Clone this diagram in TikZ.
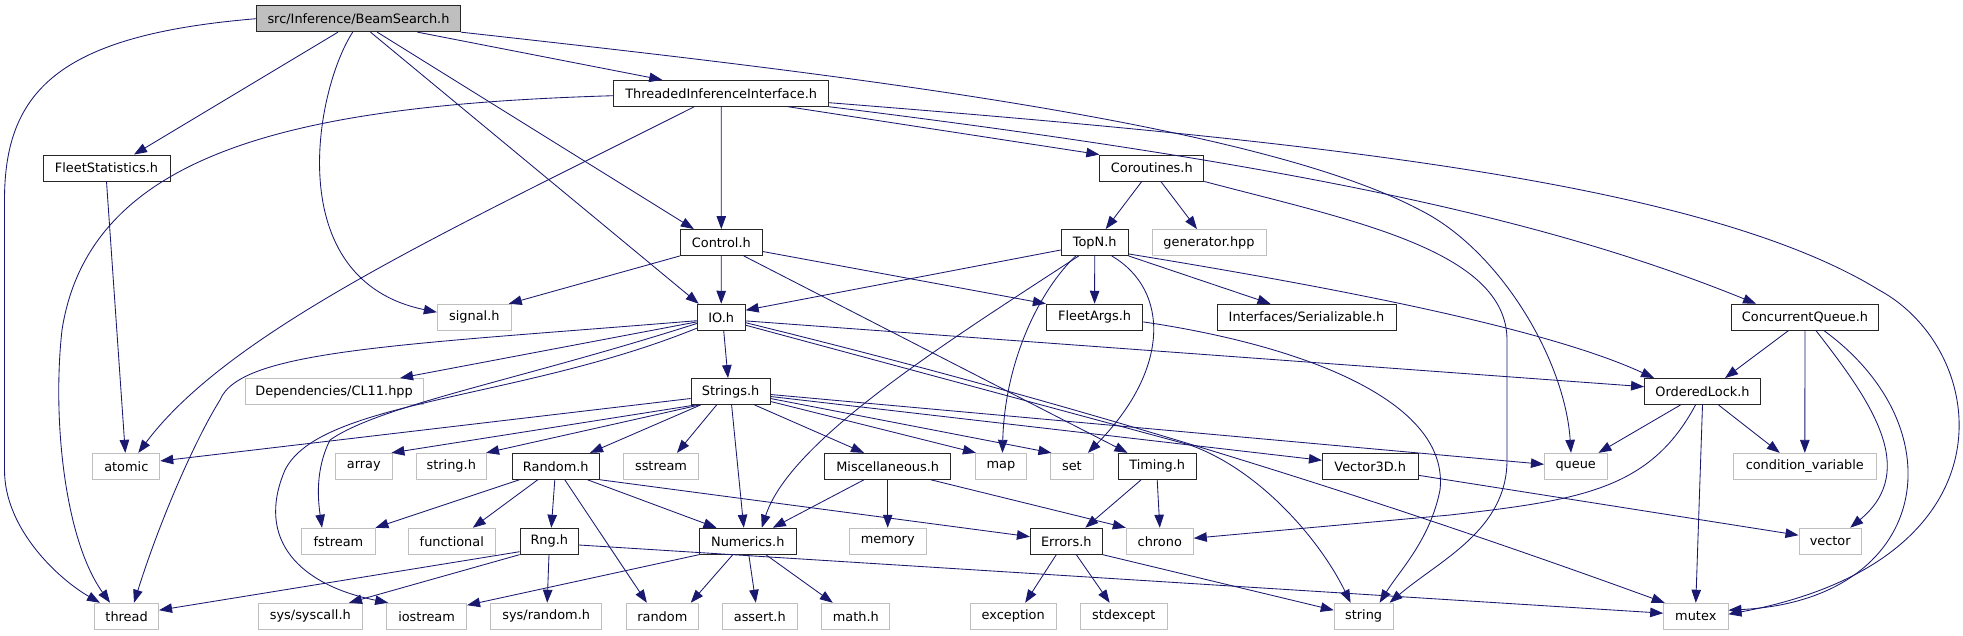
\documentclass[tikz,border=0pt]{standalone}
\usepackage{fontspec}
\setmainfont{DejaVu Sans}
\usetikzlibrary{arrows.meta}
\definecolor{eblue}{HTML}{191970}
\definecolor{extgray}{HTML}{BFBFBF}
\definecolor{rootfill}{HTML}{BFBFBF}
\begin{document}
\begin{tikzpicture}[x=1pt,y=-1pt,
  box/.style={rectangle, inner sep=0pt, minimum height=26pt, font=\fontsize{12.9}{15}\selectfont, text=black, fill=white, line width=0.9pt},
  nd/.style={box, draw=black!85},
  ext/.style={box, draw=extgray},
  root/.style={box, draw=black!85, fill=rootfill},
  e/.style={draw=eblue, line width=0.85pt, -{Triangle[length=13pt,width=9.5pt]}}]
\fill[white] (0,0) rectangle (1963,635);
\useasboundingbox (0,0) rectangle (1963,635);
% row 1-4
\node[root, minimum width=204pt] (bs) at (358.5,18.7) {src/Inference/BeamSearch.h};
\node[nd, minimum width=215pt] (tii) at (721.2,93.3) {ThreadedInferenceInterface.h};
\node[nd, minimum width=127pt] (fs) at (106.5,168) {FleetStatistics.h};
\node[nd, minimum width=104pt] (cor) at (1151.8,168) {Coroutines.h};
\node[nd, minimum width=82pt] (ctl) at (721.3,242.5) {Control.h};
\node[nd, minimum width=67pt] (topn) at (1094.7,242.5) {TopN.h};
\node[ext, minimum width=114pt] (gen) at (1209,242.5) {generator.hpp};
% row 5
\node[nd, minimum width=48pt] (io) at (721.2,317.2) {IO.h};
\node[ext, minimum width=74pt] (sig) at (474.3,317.2) {signal.h};
\node[nd, minimum width=96.5pt] (fa) at (1094.6,317.2) {FleetArgs.h};
\node[nd, minimum width=179pt] (ser) at (1306.5,317.2) {Interfaces/Serializable.h};
\node[nd, minimum width=147pt] (cq) at (1805,317.2) {ConcurrentQueue.h};
% row 6
\node[ext, minimum width=178pt] (dep) at (334.1,391.5) {Dependencies/CL11.hpp};
\node[nd, minimum width=79pt] (str) at (730.6,391.5) {Strings.h};
\node[nd, minimum width=116pt] (ol) at (1702.5,391.5) {OrderedLock.h};
% row 7
\node[ext, minimum width=67pt] (atomic) at (126.3,466.3) {atomic};
\node[ext, minimum width=56.3pt] (array) at (363.8,466.3) {array};
\node[ext, minimum width=70.6pt] (stringh) at (451.3,466.3) {string.h};
\node[nd, minimum width=87.6pt] (rnd) at (555.8,466.3) {Random.h};
\node[ext, minimum width=74.5pt] (sstream) at (661,466.3) {sstream};
\node[nd, minimum width=126.3pt] (misc) at (887.7,466.3) {Miscellaneous.h};
\node[ext, minimum width=51pt] (map) at (1000.9,466.3) {map};
\node[ext, minimum width=43pt] (set) at (1071.9,466.3) {set};
\node[nd, minimum width=78.5pt] (timing) at (1157.2,466.3) {Timing.h};
\node[nd, minimum width=95.6pt] (vec3) at (1370.2,466.3) {Vector3D.h};
\node[ext, minimum width=62.6pt] (queue) at (1575.7,466.3) {queue};
\node[ext, minimum width=143pt] (cv) at (1804.8,466.3) {condition\_variable};
% row 8
\node[ext, minimum width=73.2pt] (fstream) at (338.4,541.2) {fstream};
\node[ext, minimum width=86.6pt] (functional) at (451.8,541.2) {functional};
\node[nd, minimum width=58.5pt] (rng) at (549.3,541.2) {Rng.h};
\node[nd, minimum width=96.4pt] (num) at (747.8,541.2) {Numerics.h};
\node[ext, minimum width=77.2pt] (memory) at (887.7,541.2) {memory};
\node[nd, minimum width=71.8pt] (err) at (1066.3,541.2) {Errors.h};
\node[ext, minimum width=67pt] (chrono) at (1159.8,541.2) {chrono};
\node[ext, minimum width=62.5pt] (vector) at (1830.2,541.2) {vector};
% row 9
\node[ext, minimum width=64pt] (thread) at (126.6,616.2) {thread};
\node[ext, minimum width=104.5pt] (syscall) at (310.3,616.2) {sys/syscall.h};
\node[ext, minimum width=80pt] (iostream) at (426.6,616.2) {iostream};
\node[ext, minimum width=111.2pt] (sysrandom) at (546.2,616.2) {sys/random.h};
\node[ext, minimum width=72pt] (random) at (662.3,616.2) {random};
\node[ext, minimum width=75pt] (assert) at (759.8,616.2) {assert.h};
\node[ext, minimum width=67.8pt] (math) at (855.8,616.2) {math.h};
\node[ext, minimum width=86.2pt] (exception) at (1013.2,616.2) {exception};
\node[ext, minimum width=86.6pt] (stdexcept) at (1123.7,616.2) {stdexcept};
\node[ext, minimum width=58.8pt] (string) at (1363.6,616.2) {string};
\node[ext, minimum width=64.3pt] (mutex) at (1695.8,616.2) {mutex};

% BeamSearch
\draw[e] (bs.west) .. controls (60,35) and (4.5,90) .. (4.5,200) -- (4.5,470) .. controls (4.5,530) and (60,580) .. ([xshift=-26.6pt]thread.north);
\draw[e] ([xshift=-20.5pt]bs.south) -- ([xshift=27.5pt]fs.north);
\draw[e] ([xshift=-5.8pt]bs.south) .. controls (315,90) and (280,280) .. ([yshift=5pt]sig.west);
\draw[e] ([xshift=12pt]bs.south) -- ([xshift=2pt]io.north west);
\draw[e] ([xshift=18.7pt]bs.south) -- ([xshift=14pt]ctl.north west);
\draw[e] ([xshift=59pt]bs.south) -- ([xshift=49pt]tii.north west);
\draw[e] (bs.south east) .. controls (800,70) and (1250,120) .. (1420,210) .. controls (1500,250) and (1565,360) .. ([xshift=-4.7pt]queue.north);
% ThreadedInferenceInterface
\draw[e] ([yshift=-2.4pt]tii.west) .. controls (300,105) and (90,150) .. (62,330) .. controls (52,420) and (65,540) .. ([xshift=-16.6pt]thread.north);
\draw[e] ([xshift=-27pt]tii.south) .. controls (450,230) and (230,330) .. ([xshift=12pt]atomic.north);
\draw[e] (tii.south) -- (ctl.north);
\draw[e] ([xshift=67pt]tii.south) -- (cor.north west);
\draw[e] (tii.south east) .. controls (1300,165) and (1550,220) .. ([xshift=25pt]cq.north west);
\draw[e] ([yshift=-9.4pt]tii.east) .. controls (1300,140) and (1700,180) .. (1879,290) .. controls (1990,350) and (2020,560) .. ([yshift=2pt]mutex.east);
% FleetStatistics
\draw[e] (fs.south) -- ([xshift=-1pt]atomic.north);
% Coroutines
\draw[e] ([xshift=-10pt]cor.south) -- ([xshift=11pt]topn.north);
\draw[e] ([xshift=9pt]cor.south) -- ([xshift=-12pt]gen.north);
\draw[e] (cor.south east) .. controls (1350,220) and (1507,250) .. (1507,340) -- (1507,460) .. controls (1507,530) and (1440,560) .. ([xshift=26pt]string.north);
% Control
\draw[e] (ctl.south west) -- ([xshift=-3pt]sig.north east);
\draw[e] (ctl.south) -- (io.north);
\draw[e] ([yshift=-9pt]ctl.east) -- (fa.north west);
\draw[e] ([xshift=22.5pt]ctl.south) -- ([xshift=10pt]timing.north west);
% TopN
\draw[e] ([yshift=-7.5pt]topn.west) -- ([yshift=7pt]io.east);
\draw[e] ([xshift=-16pt]topn.south) .. controls (950,340) and (790,440) .. ([xshift=14pt]num.north);
\draw[e] ([xshift=-19pt]topn.south) .. controls (1040,290) and (1005,360) .. ([xshift=1.5pt]map.north);
\draw[e] (topn.south) -- (fa.north);
\draw[e] ([xshift=17pt]topn.south) .. controls (1170,290) and (1170,370) .. ([xshift=16pt]set.north);
\draw[e] (topn.south east) -- ([xshift=-36pt]ser.north);
\draw[e] ([yshift=2pt]topn.south east) .. controls (1350,290) and (1550,330) .. ([xshift=10pt]ol.north west);
% IO
\draw[e] ([xshift=2.5pt]io.south) -- ([xshift=-2.6pt]str.north);
\draw[e] ([yshift=-4.7pt]io.west) -- ([xshift=-23.5pt]dep.north east);
\draw[e] ([yshift=-3.5pt]io.west) .. controls (400,345) and (240,350) .. (220,400) .. controls (195,440) and (160,520) .. ([xshift=7.4pt]thread.north);
\draw[e] ([yshift=-6.3pt]io.west) .. controls (520,380) and (380,405) .. (330,440) .. controls (315,470) and (318,500) .. ([xshift=-16.4pt]fstream.north);
\draw[e] ([yshift=-11pt]io.west) .. controls (520,400) and (320,400) .. (285,470) .. controls (255,540) and (300,585) .. ([xshift=2pt]iostream.north west);
\draw[e] ([yshift=-3.7pt]io.east) -- ([yshift=4.8pt]ol.west);
\draw[e] ([yshift=-8pt]io.east) -- (1190,445) .. controls (1260,470) and (1320,540) .. ([xshift=-13pt]string.north);
\draw[e] ([yshift=-5.5pt]io.east) .. controls (1000,385) and (1300,470) .. ([xshift=1.5pt]mutex.north west);
% Strings
\draw[e] ([yshift=-7pt]str.west) -- ([yshift=5.3pt]atomic.east);
\draw[e] ([xshift=5pt]str.south west) -- ([xshift=-1pt]array.north east);
\draw[e] ([xshift=9pt]str.south west) -- ([xshift=-1pt]stringh.north east);
\draw[e] ([xshift=10pt]str.south west) -- ([xshift=-10pt]rnd.north east);
\draw[e] ([xshift=-14pt]str.south) -- ([xshift=16pt]sstream.north);
\draw[e] ([xshift=1pt]str.south) -- ([xshift=-4pt]num.north);
\draw[e] ([xshift=24pt]str.south) -- ([xshift=-23.7pt]misc.north);
\draw[e] ([yshift=-10pt]str.east) -- ([xshift=1pt]map.north west);
\draw[e] ([yshift=-7pt]str.east) -- ([xshift=1.5pt]set.north west);
\draw[e] ([yshift=-5pt]str.east) -- ([yshift=6pt]vec3.west);
\draw[e] ([yshift=-3pt]str.east) -- ([yshift=2pt]queue.west);
% Random
\draw[e] ([xshift=8pt]rnd.south west) -- (fstream.north east);
\draw[e] ([xshift=-18pt]rnd.south) -- ([xshift=21pt]functional.north);
\draw[e] ([xshift=-1pt]rnd.south) -- ([xshift=2pt]rng.north);
\draw[e] ([xshift=9pt]rnd.south) -- ([xshift=21pt]random.north west);
\draw[e] ([xshift=-12.6pt]rnd.south east) -- ([xshift=17.4pt]num.north west);
\draw[e] (rnd.south east) -- ([yshift=4.5pt]err.west);
% Rng
\draw[e] ([yshift=-10.5pt]rng.west) -- ([yshift=6pt]thread.east);
\draw[e] (rng.south west) -- ([xshift=-14pt]syscall.north east);
\draw[e] ([xshift=-0.3pt]rng.south) -- ([xshift=1pt]sysrandom.north);
\draw[e] ([yshift=-3.8pt]rng.east) -- ([yshift=3pt]mutex.west);
% Numerics
\draw[e] (num.south west) -- ([yshift=11pt]iostream.east);
\draw[e] ([xshift=-15pt]num.south) -- ([xshift=-8pt]random.north east);
\draw[e] ([xshift=1pt]num.south) -- ([xshift=-4pt]assert.north);
\draw[e] ([xshift=18pt]num.south) -- ([xshift=-23pt]math.north);
% Miscellaneous
\draw[e] ([xshift=-23.7pt]misc.south) -- ([xshift=25pt]num.north);
\draw[e] (misc.south) -- (memory.north);
\draw[e] ([xshift=43pt]misc.south) -- (chrono.north west);
% Timing
\draw[e] ([xshift=-16pt]timing.south) -- ([xshift=19pt]err.north);
\draw[e] (timing.south) -- (chrono.north);
% Errors
\draw[e] ([xshift=-10pt]err.south) -- ([xshift=12pt]exception.north);
\draw[e] ([xshift=10pt]err.south) -- ([xshift=-14pt]stdexcept.north);
\draw[e] (err.south east) -- ([yshift=6pt]string.west);
% FleetArgs
\draw[e] ([yshift=-4.7pt]fa.east) .. controls (1300,345) and (1450,400) .. (1440,490) .. controls (1430,540) and (1400,570) .. ([xshift=16pt]string.north);
% ConcurrentQueue
\draw[e] ([xshift=-16.6pt]cq.south) -- ([xshift=22.5pt]ol.north);
\draw[e] (cq.south) -- (cv.north);
\draw[e] ([xshift=11pt]cq.south) .. controls (1870,400) and (1920,470) .. ([xshift=20pt]vector.north);
\draw[e] ([xshift=19pt]cq.south) .. controls (1960,430) and (1930,600) .. ([yshift=6pt]mutex.east);
% OrderedLock
\draw[e] ([xshift=-22pt]ol.south) -- ([xshift=-9pt]queue.north east);
\draw[e] ([xshift=16pt]ol.south) -- ([xshift=-25pt]cv.north);
\draw[e] (ol.south) -- (mutex.north);
\draw[e] ([xshift=-7pt]ol.south) .. controls (1650,490) and (1580,500) .. (1450,515) -- ([yshift=3pt]chrono.east);
% Vector3D
\draw[e] ([yshift=-9pt]vec3.east) -- ([yshift=6pt]vector.west);
\end{tikzpicture}
\end{document}
